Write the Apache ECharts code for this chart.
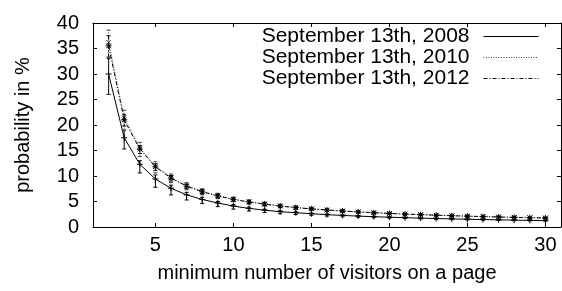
<!DOCTYPE html>
<html><head><meta charset="utf-8">
<script src="https://cdn.jsdelivr.net/npm/echarts@6/dist/echarts.min.js"></script>
<style>html,body{margin:0;padding:0;background:#fff}#c{width:562px;height:291px}</style>
</head><body><div id="c"></div>
<script>
var visitors = [2,3,4,5,6,7,8,9,10,11,12,13,14,15,16,17,18,19,20,21,22,23,24,25,26,27,28,29,30];
var seriesNames = ['September 13th, 2008','September 13th, 2010','September 13th, 2012'];
var v2008 = [30.0,17.5,12.3,9.4,7.6,6.3,5.4,4.7,4.1,3.65,3.3,3.0,2.8,2.6,2.42,2.27,2.14,2.02,1.92,1.82,1.74,1.66,1.59,1.52,1.46,1.40,1.35,1.30,1.25];
var lo2008 = [26.0,15.3,10.6,7.8,6.3,5.3,4.6,4.0,3.5,3.15,2.85,2.6,2.45,2.3,2.15,2.02,1.92,1.82,1.73,1.65,1.58,1.51,1.45,1.39,1.34,1.29,1.24,1.2,1.15];
var hi2008 = [33.0,19.0,13.0,10.2,8.2,6.8,5.8,5.0,4.4,3.9,3.5,3.2,2.98,2.76,2.57,2.4,2.26,2.13,2.02,1.92,1.83,1.75,1.67,1.6,1.54,1.48,1.42,1.37,1.32];
var v2010 = [36.2,21.4,15.5,11.9,9.7,8.1,7.0,6.15,5.45,4.95,4.52,4.15,3.83,3.57,3.35,3.15,2.97,2.81,2.67,2.54,2.43,2.32,2.22,2.13,2.05,1.97,1.90,1.83,1.77];
var lo2010 = [26.0,19.0,13.8,10.6,8.7,7.3,6.3,5.55,4.95,4.5,4.12,3.8,3.52,3.29,3.09,2.91,2.75,2.61,2.48,2.36,2.26,2.16,2.07,1.99,1.92,1.85,1.78,1.72,1.66];
var hi2010 = [38.6,22.9,16.6,12.8,10.4,8.7,7.5,6.6,5.85,5.3,4.85,4.45,4.1,3.83,3.58,3.37,3.18,3.0,2.85,2.72,2.6,2.48,2.37,2.28,2.19,2.1,2.03,1.96,1.89];
var v2012 = [35.5,21.0,15.3,11.8,9.6,8.0,6.9,6.1,5.4,4.9,4.5,4.1,3.8,3.55,3.33,3.13,2.96,2.8,2.66,2.53,2.42,2.31,2.21,2.12,2.04,1.96,1.89,1.82,1.76];
var lo2012 = [33.3,19.8,14.4,11.1,9.0,7.5,6.5,5.7,5.05,4.6,4.2,3.85,3.56,3.33,3.12,2.94,2.78,2.63,2.5,2.38,2.27,2.17,2.08,2.0,1.92,1.85,1.78,1.72,1.66];
var hi2012 = [37.5,22.0,16.0,12.4,10.1,8.4,7.3,6.4,5.7,5.15,4.72,4.32,4.0,3.73,3.5,3.29,3.11,2.94,2.79,2.66,2.54,2.43,2.32,2.23,2.14,2.06,1.98,1.91,1.85];

var FONT = '"Liberation Sans", Arial, sans-serif';
var styles = [
  {color:'#000', dash:null, marker:'plus'},
  {color:'#444', dash:[1,1.5], marker:'cross'},
  {color:'#000', dash:[4,2,1,2], marker:'star'}
];
var vals = [v2008, v2010, v2012], los = [lo2008, lo2010, lo2012], his = [hi2008, hi2010, hi2012];

function markerLines(m, px, py, r) {
  var segs = [];
  if (m === 'plus' || m === 'star') { segs.push([px-r,py,px+r,py]); segs.push([px,py-r,px,py+r]); }
  if (m === 'cross' || m === 'star') { var d=r*0.75; segs.push([px-d,py-d,px+d,py+d]); segs.push([px-d,py+d,px+d,py-d]); }
  return segs;
}

var series = [];
for (var s = 0; s < 3; s++) {
  (function(s){
    var st = styles[s];
    series.push({
      name: seriesNames[s], type:'line', symbol:'none', smooth:false,
      data: visitors.map(function(x,i){return [x, vals[s][i]];}),
      lineStyle:{color:st.color, width:1, type: st.dash ? st.dash : 'solid'},
      itemStyle:{color:st.color},
      z: 3, animation:false
    });
    series.push({
      type:'custom', name: seriesNames[s] + ' err',
      data: visitors.map(function(x,i){return [x, vals[s][i], los[s][i], his[s][i]];}),
      encode:{x:0, y:1},
      animation:false, z:4,
      renderItem: function(params, api){
        var p = api.coord([api.value(0), api.value(1)]);
        var lo = api.coord([api.value(0), api.value(2)]);
        var hi = api.coord([api.value(0), api.value(3)]);
        var ls = {stroke: st.color, lineWidth:1, fill:null};
        var barStyle = {stroke: st.color, lineWidth:1, fill:null, lineDash: st.dash};
        var ch = [
          {type:'line', shape:{x1:p[0],y1:hi[1],x2:p[0],y2:lo[1]}, style:barStyle},
          {type:'line', shape:{x1:p[0]-2,y1:hi[1],x2:p[0]+2,y2:hi[1]}, style:ls},
          {type:'line', shape:{x1:p[0]-2,y1:lo[1],x2:p[0]+2,y2:lo[1]}, style:ls}
        ];
        markerLines(st.marker, p[0], p[1], 3).forEach(function(sg){
          ch.push({type:'line', shape:{x1:sg[0],y1:sg[1],x2:sg[2],y2:sg[3]}, style:{stroke:st.color, lineWidth:1}});
        });
        return {type:'group', children: ch};
      }
    });
  })(s);
}

var axisCommon = {
  axisLine:{show:true, onZero:false, lineStyle:{color:'#000', width:1}},
  axisTick:{show:true, inside:true, length:4, lineStyle:{color:'#000'}},
  splitLine:{show:false}
};

var chart = echarts.init(document.getElementById('c'), null, {renderer:'canvas'});
chart.setOption({
  animation:false,
  backgroundColor:'#fff',
  grid:{left:93, top:23, right:1, bottom:64, containLabel:false},
  legend:{
    data: seriesNames, orient:'vertical', right:18, top:21, align:'right',
    itemWidth:55, itemHeight:10, itemGap:0,
    itemStyle:{opacity:0},
    lineStyle:{width:1},
    textStyle:{fontFamily:FONT, fontSize:21, color:'#000', lineHeight:21, padding:[0,9,0,0]},
    selectedMode:false
  },
  xAxis:[
    Object.assign({type:'value', min:1, max:31, interval:5, position:'bottom',
      name:'minimum number of visitors on a page', nameLocation:'middle', nameGap:36,
      nameTextStyle:{fontFamily:FONT, fontSize:20, color:'#000'},
      axisLabel:{fontFamily:FONT, fontSize:20, color:'#000', margin:8,
        customValues:[5,10,15,20,25,30]},
      axisTick:{show:true, inside:true, length:4, lineStyle:{color:'#000'}, customValues:[5,10,15,20,25,30]}
    }, {axisLine:axisCommon.axisLine, splitLine:axisCommon.splitLine}),
    Object.assign({type:'value', min:1, max:31, position:'top',
      axisLabel:{show:false},
      axisTick:{show:true, inside:true, length:4, lineStyle:{color:'#000'}, customValues:[5,10,15,20,25,30]}
    }, {axisLine:axisCommon.axisLine, splitLine:axisCommon.splitLine})
  ],
  yAxis:[
    Object.assign({type:'value', min:0, max:40, interval:5, position:'left',
      name:'probability in %', nameLocation:'middle', nameGap:60, nameRotate:90,
      nameTextStyle:{fontFamily:FONT, fontSize:20, color:'#000'},
      axisLabel:{fontFamily:FONT, fontSize:20, color:'#000', margin:14}
    }, axisCommon),
    Object.assign({type:'value', min:0, max:40, interval:5, position:'right',
      axisLabel:{show:false}
    }, axisCommon)
  ],
  series: series
});
</script>
</body></html>
